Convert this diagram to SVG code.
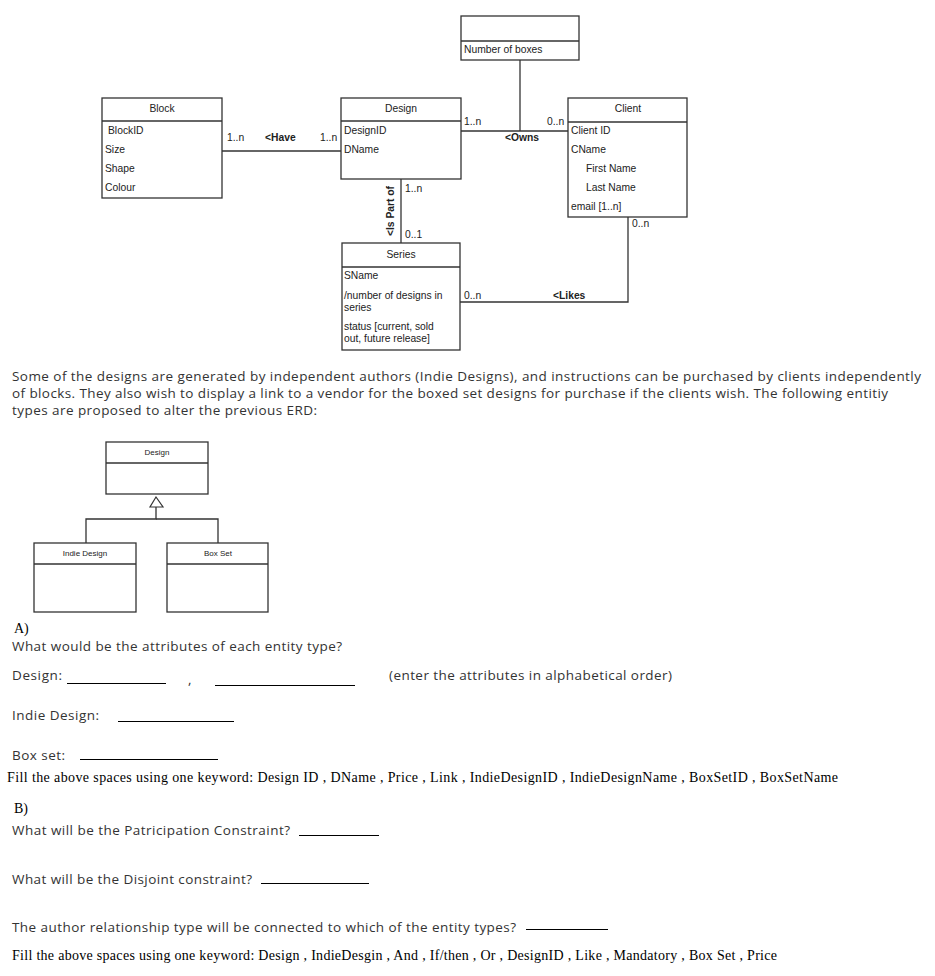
<svg xmlns="http://www.w3.org/2000/svg" width="935" height="976" viewBox="0 0 935 976">
<style>
.box{fill:#fff;stroke:#333;stroke-width:1.3}
.ln{fill:none;stroke:#333;stroke-width:1.3}
.t{font-family:"Liberation Sans",Arial,sans-serif;font-size:10.3px;fill:#222}
.b{font-weight:bold}
.s{font-family:"Liberation Sans",Arial,sans-serif;font-size:8px;fill:#222}
.o{font-family:"Open Sans","Noto Sans",sans-serif;font-size:13.5px;fill:#333}
.q{font-family:"Open Sans","Noto Sans",sans-serif;font-size:13.5px;fill:#333}
.r{font-family:"Liberation Serif","Times New Roman",serif;font-size:14px;fill:#000}
.u{stroke:#000;stroke-width:1}
</style>
<rect width="935" height="976" fill="#fff"/>

<g id="connectors">
<line class="ln" x1="520" y1="60" x2="520" y2="131"/>
<line class="ln" x1="222" y1="151" x2="341" y2="151"/>
<line class="ln" x1="461" y1="131" x2="568" y2="131"/>
<line class="ln" x1="401" y1="179" x2="401" y2="243"/>
<polyline class="ln" points="460,302 628,302 628,217"/>
<text class="t" x="227" y="141">1..n</text>
<text class="t b" x="265" y="141">&lt;Have</text>
<text class="t" x="320" y="141">1..n</text>
<text class="t" x="464" y="125">1..n</text>
<text class="t" x="547" y="125">0..n</text>
<text class="t b" x="505" y="141">&lt;Owns</text>
<text class="t" x="405" y="192">1..n</text>
<text class="t" x="405" y="238">0..1</text>
<text class="t b" transform="translate(394,211) rotate(-90)" text-anchor="middle">&lt;Is Part of</text>
<text class="t" x="464" y="299">0..n</text>
<text class="t b" x="553" y="299">&lt;Likes</text>
<text class="t" x="632" y="227">0..n</text>
</g>

<g id="relationship-attr">
<rect class="box" x="461" y="16" width="118" height="44"/>
<line class="ln" x1="461" y1="41" x2="579" y2="41"/>
<text class="t" x="464" y="53">Number of boxes</text>
</g>

<g id="block">
<rect class="box" x="102" y="98" width="120" height="100"/>
<line class="ln" x1="102" y1="121" x2="222" y2="121"/>
<text class="t" x="162" y="112" text-anchor="middle">Block</text>
<text class="t" x="108" y="134">BlockID</text>
<text class="t" x="105" y="153">Size</text>
<text class="t" x="105" y="172">Shape</text>
<text class="t" x="105" y="191">Colour</text>
</g>

<g id="design">
<rect class="box" x="341" y="98" width="120" height="81"/>
<line class="ln" x1="341" y1="121" x2="461" y2="121"/>
<text class="t" x="401" y="112" text-anchor="middle">Design</text>
<text class="t" x="344" y="134">DesignID</text>
<text class="t" x="344" y="153">DName</text>
</g>

<g id="client">
<rect class="box" x="568" y="98" width="119" height="119"/>
<line class="ln" x1="568" y1="122" x2="687" y2="122"/>
<text class="t" x="628" y="112" text-anchor="middle">Client</text>
<text class="t" x="571" y="134">Client ID</text>
<text class="t" x="571" y="153">CName</text>
<text class="t" x="586" y="172">First Name</text>
<text class="t" x="586" y="191">Last Name</text>
<text class="t" x="571" y="210">email [1..n]</text>
</g>

<g id="series">
<rect class="box" x="342" y="243" width="118" height="107"/>
<line class="ln" x1="342" y1="267" x2="460" y2="267"/>
<text class="t" x="401" y="258" text-anchor="middle">Series</text>
<text class="t" x="344" y="279">SName</text>
<text class="t" x="344" y="299">/number of designs in</text>
<text class="t" x="344" y="311">series</text>
<text class="t" x="344" y="330">status [current, sold</text>
<text class="t" x="344" y="342">out, future release]</text>
</g>

<g id="paragraph">
<text class="o" x="12" y="381" textLength="909">Some of the designs are generated by independent authors (Indie Designs), and instructions can be purchased by clients independently</text>
<text class="o" x="12" y="398" textLength="876">of blocks. They also wish to display a link to a vendor for the boxed set designs for purchase if the clients wish. The following entitiy</text>
<text class="o" x="12" y="415" textLength="305">types are proposed to alter the previous ERD:</text>
</g>

<g id="sub-connectors">
<polygon points="156,497 150,507 163,507" fill="#fff" stroke="#333" stroke-width="1.2"/>
<polyline class="ln" points="156,507 156,519 86,519 86,543"/>
<polyline class="ln" points="156,519 218,519 218,543"/>
</g>

<g id="design-super">
<rect class="box" x="106" y="442" width="102" height="52"/>
<line class="ln" x1="106" y1="463" x2="208" y2="463"/>
<text class="s" x="157" y="455" text-anchor="middle">Design</text>
</g>

<g id="indie-design">
<rect class="box" x="34" y="543" width="102" height="69"/>
<line class="ln" x1="34" y1="564" x2="136" y2="564"/>
<text class="s" x="85" y="556" text-anchor="middle">Indie Design</text>
</g>

<g id="box-set">
<rect class="box" x="167" y="543" width="101" height="69"/>
<line class="ln" x1="167" y1="564" x2="268" y2="564"/>
<text class="s" x="218" y="556" text-anchor="middle">Box Set</text>
</g>

<g id="questions">
<text class="r" x="14" y="633">A)</text>
<text class="q" x="12" y="651" textLength="330">What would be the attributes of each entity type?</text>
<text class="q" x="12" y="680" textLength="50">Design:</text>
<line class="u" x1="67" y1="683.5" x2="166" y2="683.5"/>
<text class="q" x="188" y="684" font-size="9">,</text>
<line class="u" x1="215" y1="685.5" x2="355" y2="685.5"/>
<text class="q" x="389" y="680" textLength="283">(enter the attributes in alphabetical order)</text>
<text class="q" x="12" y="720" textLength="87">Indie Design:</text>
<line class="u" x1="118" y1="721.5" x2="234" y2="721.5"/>
<text class="q" x="12" y="760" textLength="53">Box set:</text>
<line class="u" x1="80" y1="759.5" x2="218" y2="759.5"/>
<text class="r" x="7" y="782" textLength="831">Fill the above spaces using one keyword:  Design ID , DName , Price , Link , IndieDesignID , IndieDesignName , BoxSetID ,  BoxSetName</text>
<text class="r" x="14" y="813">B)</text>
<text class="q" x="12" y="835" textLength="278">What will be the Patricipation Constraint?</text>
<line class="u" x1="299" y1="835.5" x2="379" y2="835.5"/>
<text class="q" x="12" y="884" textLength="240">What will be the Disjoint constraint?</text>
<line class="u" x1="261" y1="883.5" x2="369" y2="883.5"/>
<text class="q" x="12" y="932" textLength="504">The author relationship type will be connected to which of the entity types?</text>
<line class="u" x1="526" y1="929.5" x2="608" y2="929.5"/>
<text class="r" x="12" y="960" textLength="765">Fill the above spaces using one keyword: Design , IndieDesgin , And , If/then , Or , DesignID , Like , Mandatory , Box Set , Price</text>
</g>
</svg>
